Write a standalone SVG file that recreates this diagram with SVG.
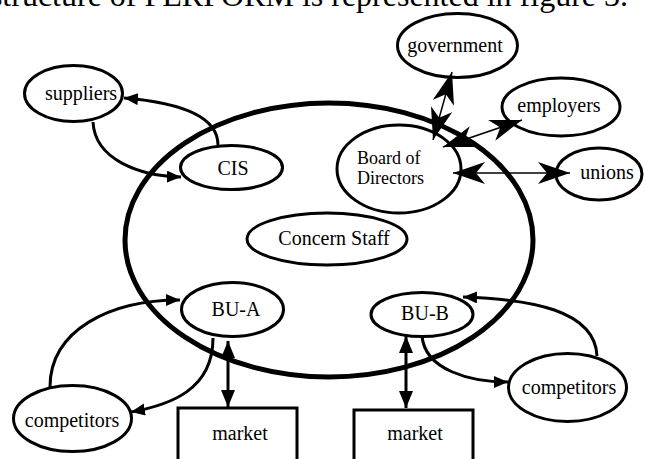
<svg xmlns="http://www.w3.org/2000/svg" width="645" height="459" viewBox="0 0 645 459">
<style>
text{font-family:"Liberation Serif","Times New Roman",serif;font-size:20px;fill:#000}
.node{fill:none;stroke:#000;stroke-width:3}
.big{fill:none;stroke:#000;stroke-width:5}
.c{fill:none;stroke:#000;stroke-width:3}
.thin{fill:none;stroke:#000;stroke-width:1.5}
.mid{text-anchor:middle}
</style>
<defs>
<marker id="arr" markerUnits="userSpaceOnUse" markerWidth="15" markerHeight="13" refX="14" refY="6" orient="auto" viewBox="0 0 15 13">
<path d="M0,0 L14,6 L0,12 z" fill="#000"/>
</marker>
<marker id="arr2" markerUnits="userSpaceOnUse" markerWidth="18" markerHeight="15" refX="17" refY="7" orient="auto-start-reverse" viewBox="0 0 18 15">
<path d="M0,0 L17,7 L0,14 z" fill="#000"/>
</marker>
<marker id="dart" markerUnits="userSpaceOnUse" markerWidth="33" markerHeight="23" refX="32" refY="11" orient="auto-start-reverse" viewBox="0 0 33 23">
<path d="M32,11 L0,0 L9,11 L0,22 z" fill="#000"/>
</marker>
</defs>
<text x="628" y="6" style="font-size:32px;text-anchor:end">structure of PERFORM is represented in figure 3.</text>
<g id="concern">
<ellipse class="big" cx="329" cy="240" rx="204" ry="137"/>
</g>
<g id="connectors">
<path class="c" d="M218,145 C218,118 185,103 124,98" marker-end="url(#arr)"/>
<path class="c" d="M93,122 C95,160 140,176 181,177" marker-end="url(#arr)"/>
<path class="c" d="M50,387 C50,330 110,300 180,300" marker-end="url(#arr)"/>
<path class="c" d="M213,338 C213,390 170,405 131,412" marker-end="url(#arr)"/>
<line class="c" x1="228" y1="341" x2="228" y2="407" marker-start="url(#arr2)" marker-end="url(#arr2)"/>
<line class="c" x1="406" y1="336" x2="406" y2="408" marker-start="url(#arr2)" marker-end="url(#arr2)"/>
<path class="c" d="M422,336 C425,370 470,382 508,382" marker-end="url(#arr)"/>
<path class="c" d="M597,356 C595,310 530,299 463,297" marker-end="url(#arr)"/>
<line class="thin" x1="433" y1="140" x2="452" y2="72" marker-start="url(#dart)" marker-end="url(#dart)"/>
<line class="thin" x1="443" y1="147" x2="522" y2="120" marker-start="url(#dart)" marker-end="url(#dart)"/>
<line class="thin" x1="453" y1="173" x2="570" y2="173" marker-start="url(#dart)" marker-end="url(#dart)"/>
</g>
<g id="suppliers">
<ellipse class="node" cx="73.5" cy="93.5" rx="49" ry="28"/>
<text class="mid" x="81" y="100">suppliers</text>
</g>
<g id="cis">
<ellipse class="node" cx="231.5" cy="167.5" rx="51" ry="22"/>
<text class="mid" x="233" y="175">CIS</text>
</g>
<g id="board">
<ellipse class="node" cx="399" cy="169" rx="62" ry="44"/>
<text x="357" y="164" style="font-size:18px">Board of</text>
<text x="357" y="184" style="font-size:18px">Directors</text>
</g>
<g id="government">
<ellipse class="node" cx="457.5" cy="45.5" rx="60" ry="32"/>
<text class="mid" x="455" y="52">government</text>
</g>
<g id="employers">
<ellipse class="node" cx="561" cy="107" rx="59" ry="29"/>
<text class="mid" x="559" y="112">employers</text>
</g>
<g id="unions">
<ellipse class="node" cx="599" cy="174" rx="43" ry="26"/>
<text class="mid" x="607" y="179">unions</text>
</g>
<g id="staff">
<ellipse class="node" cx="327" cy="239" rx="80" ry="26"/>
<text class="mid" x="334" y="245">Concern Staff</text>
</g>
<g id="bua">
<ellipse class="node" cx="232.5" cy="309.5" rx="51" ry="27"/>
<text class="mid" x="236" y="316">BU-A</text>
</g>
<g id="bub">
<ellipse class="node" cx="422" cy="314.5" rx="51" ry="22"/>
<text class="mid" x="425" y="320">BU-B</text>
</g>
<g id="competitorsA">
<ellipse class="node" cx="72.5" cy="418.5" rx="59" ry="33"/>
<text class="mid" x="72" y="427">competitors</text>
</g>
<g id="competitorsB">
<ellipse class="node" cx="567.5" cy="387.5" rx="59" ry="34"/>
<text class="mid" x="569" y="394">competitors</text>
</g>
<g id="marketA">
<rect class="node" x="178" y="408" width="119" height="60"/>
<text class="mid" x="240" y="440">market</text>
</g>
<g id="marketB">
<rect class="node" x="354" y="410" width="119" height="60"/>
<text class="mid" x="415" y="440">market</text>
</g>
</svg>
